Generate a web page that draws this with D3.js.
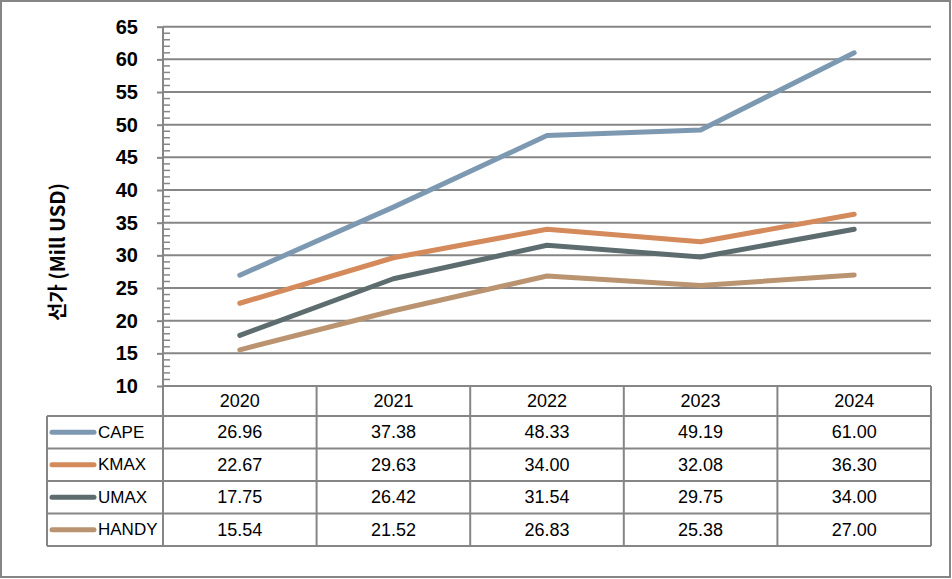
<!DOCTYPE html>
<html>
<head>
<meta charset="utf-8">
<script src="https://cdn.jsdelivr.net/npm/d3@7"></script>
<style>
	body { margin: 0; background: #fff; }
	svg { display: block; }
	.tick text { font-family: "Liberation Sans", Arial, sans-serif; }
</style>
</head>
<body>
<div id="chart"></div>
<script>
// data
const years = ['2020', '2021', '2022', '2023', '2024'];
const seriesNames = ['CAPE', 'KMAX', 'UMAX', 'HANDY'];
const cape = [26.96, 37.38, 48.33, 49.19, 61.00];
const kmax = [22.67, 29.63, 34.00, 32.08, 36.30];
const umax = [17.75, 26.42, 31.54, 29.75, 34.00];
const handy = [15.54, 21.52, 26.83, 25.38, 27.00];
const yTicks = [10, 15, 20, 25, 30, 35, 40, 45, 50, 55, 60, 65];
const colors = ['#7d99b2', '#d48a5b', '#5d6c6f', '#ba9470'];

const seriesValues = [cape, kmax, umax, handy];

const width = 952;
const height = 579;
const gridColor = '#868686';

let svg = d3.select('#chart').append('svg')
	.attr('width', width)
	.attr('height', height);

// outer frame
svg.append('rect')
	.attr('x', 1)
	.attr('y', 1)
	.attr('width', width - 3)
	.attr('height', height - 3)
	.attr('fill', '#fff')
	.attr('stroke', gridColor)
	.attr('stroke-width', 2);

let plotLeft = 163, plotRight = 931, plotTop = 26.7, plotBottom = 386;

let x = d3.scaleBand()
	.domain(years)
	.range([plotLeft, plotRight]);

let y = d3.scaleLinear()
	.domain([10, 65])
	.range([plotBottom, plotTop]);

// gridlines
svg.append('g')
	.selectAll('line')
	.data(yTicks.slice(1))
	.enter()
	.append('line')
	.attr('x1', plotLeft)
	.attr('x2', plotRight)
	.attr('y1', d => y(d))
	.attr('y2', d => y(d))
	.attr('stroke', gridColor)
	.attr('stroke-width', 2);

// minor ticks
let minor = d3.range(10, 66, 1).filter(v => v % 5 != 0);
svg.append('g')
	.selectAll('line')
	.data(minor)
	.enter()
	.append('line')
	.attr('x1', plotLeft)
	.attr('x2', plotLeft + 7)
	.attr('y1', d => y(d))
	.attr('y2', d => y(d))
	.attr('stroke', gridColor)
	.attr('stroke-width', 1.5);

// y axis
let yAxis = svg.append('g')
	.attr('transform', 'translate(' + plotLeft + ',0)')
	.call(d3.axisLeft(y).tickValues(yTicks).tickSize(6).tickPadding(19));

yAxis.select('.domain')
	.attr('stroke', gridColor)
	.attr('stroke-width', 2)
	.attr('d', 'M0,' + plotTop + 'V' + (plotBottom + 160));
yAxis.selectAll('.tick line')
	.attr('stroke', gridColor)
	.attr('stroke-width', 2);
yAxis.selectAll('.tick text')
	.attr('fill', '#000')
	.attr('font-size', 20)
	.attr('font-weight', 'bold');

svg.append('text')
	.attr('transform', 'translate(65,252) rotate(-90)')
	.attr('text-anchor', 'middle')
	.attr('font-family', '"Noto Sans CJK KR", sans-serif')
	.attr('font-size', 20)
	.attr('font-weight', 'bold')
	.text('선가 (Mill USD)');

// lines
let line = d3.line()
	.x((d, i) => x(years[i]) + x.bandwidth() / 2)
	.y(d => y(d));

svg.append('g')
	.selectAll('path')
	.data(seriesValues)
	.enter()
	.append('path')
	.attr('d', d => line(d))
	.attr('fill', 'none')
	.attr('stroke', (d, i) => colors[i])
	.attr('stroke-width', 5)
	.attr('stroke-linecap', 'round')
	.attr('stroke-linejoin', 'round');

// data table
let headerH = 30, rowH = 32.5;
let tableLeft = 47;
let tableBottom = plotBottom + headerH + rowH * seriesNames.length;
let table = svg.append('g');

let hLines = [plotBottom].concat(d3.range(seriesNames.length + 1).map(i => plotBottom + headerH + i * rowH));
table.selectAll('.hline')
	.data(hLines)
	.enter()
	.append('line')
	.attr('class', 'hline')
	.attr('x1', (d, i) => i == 0 ? plotLeft : tableLeft)
	.attr('x2', plotRight)
	.attr('y1', d => d)
	.attr('y2', d => d)
	.attr('stroke', gridColor)
	.attr('stroke-width', 2);

let vLines = years.map(yr => x(yr) + x.bandwidth());
table.selectAll('.vline')
	.data(vLines)
	.enter()
	.append('line')
	.attr('class', 'vline')
	.attr('x1', d => d)
	.attr('x2', d => d)
	.attr('y1', plotBottom)
	.attr('y2', tableBottom)
	.attr('stroke', gridColor)
	.attr('stroke-width', 2);

table.append('line')
	.attr('x1', tableLeft)
	.attr('x2', tableLeft)
	.attr('y1', plotBottom + headerH)
	.attr('y2', tableBottom)
	.attr('stroke', gridColor)
	.attr('stroke-width', 2);

table.selectAll('.year')
	.data(years)
	.enter()
	.append('text')
	.attr('class', 'year')
	.attr('x', d => x(d) + x.bandwidth() / 2)
	.attr('y', plotBottom + headerH / 2)
	.attr('dominant-baseline', 'central')
	.attr('text-anchor', 'middle')
	.attr('font-family', '"Liberation Sans", Arial, sans-serif')
	.attr('font-size', 18)
	.text(d => d);

let rows = table.selectAll('.row')
	.data(seriesNames)
	.enter()
	.append('g')
	.attr('class', 'row')
	.attr('transform', (d, i) => 'translate(0,' + (plotBottom + headerH + i * rowH + rowH / 2) + ')');

rows.append('line')
	.attr('x1', 52)
	.attr('x2', 94)
	.attr('stroke', (d, i) => colors[i])
	.attr('stroke-width', 5)
	.attr('stroke-linecap', 'round');

rows.append('text')
	.attr('x', 98)
	.attr('dominant-baseline', 'central')
	.attr('font-family', '"Liberation Sans", Arial, sans-serif')
	.attr('font-size', 17)
	.text(d => d);

rows.selectAll('.val')
	.data((d, i) => seriesValues[i])
	.enter()
	.append('text')
	.attr('class', 'val')
	.attr('x', (d, i) => x(years[i]) + x.bandwidth() / 2)
	.attr('dominant-baseline', 'central')
	.attr('text-anchor', 'middle')
	.attr('font-family', '"Liberation Sans", Arial, sans-serif')
	.attr('font-size', 18)
	.text(d => d.toFixed(2));
</script>
</body>
</html>
